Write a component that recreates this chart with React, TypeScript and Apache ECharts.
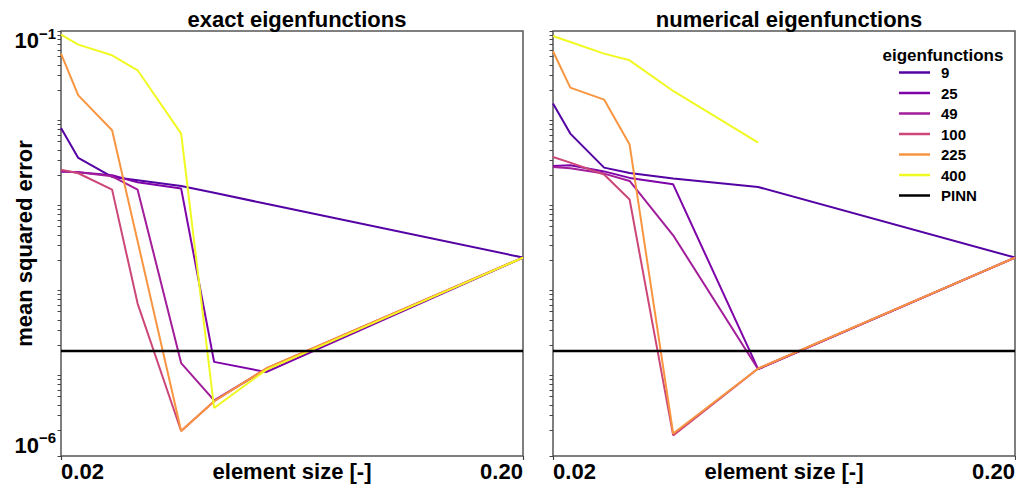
import React, { useEffect, useRef } from "react";
import * as echarts from "echarts";

// element sizes (x) for each panel
const exactSizes = [0.02, 0.0218, 0.0258, 0.0293, 0.0364, 0.0429, 0.0556, 0.2];
const numericalSizes = [0.02, 0.0218, 0.0258, 0.0293, 0.0364, 0.0556, 0.2];

const eigenNames = ["9", "25", "49", "100", "225", "400"];
const eigenColors = ["#5402a3", "#7e03a8", "#a21d9a", "#cc4778", "#f89540", "#f0f921"];

// exact eigenfunctions panel (mean squared error)
const exact9 = [7.23e-3, 3.21e-3, 1.92e-3, 1.75e-3, 1.5e-3, 1.25e-3, 9.27e-4, 2.16e-4];
const exact25 = [2.22e-3, 2.18e-3, 2.01e-3, 1.66e-3, 1.4e-3, 1.28e-5, 9.73e-6, 2.16e-4];
const exact49 = [2.22e-3, 2.18e-3, 1.95e-3, 1.36e-3, 1.24e-5, 4.52e-6, 1.05e-5, 2.16e-4];
const exact100 = [2.34e-3, 2.12e-3, 1.36e-3, 6.21e-5, 1.97e-6, 4.41e-6, 1.07e-5, 2.16e-4];
const exact225 = [5.42e-2, 1.75e-2, 6.79e-3, 3.36e-4, 1.97e-6, 4.41e-6, 1.07e-5, 2.16e-4];
const exact400 = [9.07e-2, 6.92e-2, 5.18e-2, 3.45e-2, 6.21e-3, 3.67e-6, 1.03e-5, 2.16e-4];

// numerical eigenfunctions panel
const num9 = [1.4e-2, 6.21e-3, 2.47e-3, 2.13e-3, 1.84e-3, 1.46e-3, 2.16e-4];
const num25 = [2.58e-3, 2.63e-3, 2.23e-3, 1.87e-3, 1.57e-3, 1.05e-5, 2.16e-4];
const num49 = [2.51e-3, 2.43e-3, 2.1e-3, 1.72e-3, 3.95e-4, 1.05e-5, 2.16e-4];
const num100 = [3.3e-3, 2.83e-3, 2.05e-3, 1.04e-3, 1.75e-6, 1.07e-5, 2.16e-4];
const num225 = [5.77e-2, 2.16e-2, 1.56e-2, 4.61e-3, 1.84e-6, 1.07e-5, 2.16e-4];
const num400 = [8.73e-2, 7.43e-2, 5.42e-2, 4.52e-2, 1.97e-2, 4.86e-3, null];

const pinnMSE = 1.72e-5;

const xTickLabels = [0.02, 0.2];
const yTickLabels = [1e-6, 1e-1];

const exactSeries = [exact9, exact25, exact49, exact100, exact225, exact400];
const numSeries = [num9, num25, num49, num100, num225, num400];

const FONT = "Liberation Sans";

function yMinorTicks(): number[] {
  const out: number[] = [];
  for (let k = -6; k <= -2; k++) {
    for (let m = 2; m <= 9; m++) out.push(m * Math.pow(10, k));
  }
  return out;
}

const base = { fontFamily: FONT, fontWeight: "bold", color: "#000" };

export default function App() {
  const ref = useRef<HTMLDivElement>(null);
  useEffect(() => {
    if (!ref.current) return;
    const chart = echarts.init(ref.current, null, { renderer: "svg" });
    const grids = [
      { left: 61, top: 31, width: 462, height: 425 },
      { left: 553, top: 31, width: 462, height: 425 },
    ];
    const makeX = (i: number) => ({
      type: "log",
      logBase: 10,
      gridIndex: i,
      min: 0.02,
      max: 0.2,
      name: "element size [-]",
      nameLocation: "middle",
      nameGap: 4,
      nameMoveOverlap: false,
      nameTextStyle: { ...base, fontSize: 22, verticalAlign: "top" },
      axisLine: { show: false },
      splitLine: { show: false },
      minorTick: { show: false },
      axisTick: { show: true, customValues: xTickLabels, length: 4, lineStyle: { color: "#444", width: 1.2 } },
      axisLabel: {
        customValues: xTickLabels,
        margin: 4,
        formatter: (v: number) => (v < 0.05 ? "{l|" + v.toFixed(2) + "}" : "{r|" + v.toFixed(2) + "}"),
        rich: {
          l: { ...base, fontSize: 22, padding: [0, 0, 0, 43] },
          r: { ...base, fontSize: 22, padding: [0, 43, 0, 0] },
        },
      },
    });
    const makeY = (i: number) => ({
      type: "log",
      logBase: 10,
      gridIndex: i,
      min: 1e-6,
      max: 1e-1,
      name: i === 0 ? "mean squared error" : "",
      nameLocation: "middle",
      nameRotate: 90,
      nameGap: 26,
      nameMoveOverlap: false,
      nameTextStyle: { ...base, fontSize: 22 },
      axisLine: { show: false },
      splitLine: { show: false },
      minorTick: { show: false },
      axisTick: { show: true, customValues: yMinorTicks().concat(yTickLabels), length: 3.5, lineStyle: { color: "#444", width: 1 } },
      axisLabel: {
        show: i === 0,
        customValues: yTickLabels,
        margin: 5,
        formatter: (v: number) => {
          const e = Math.round(Math.log10(v));
          return e > -3 ? "{tb|10}{ts|−" + Math.abs(e) + "}" : "{bb|10}{bs|−" + Math.abs(e) + "}";
        },
        rich: {
          tb: { ...base, fontSize: 22, lineHeight: 22, padding: [24, 0, 6, 0] },
          ts: { ...base, fontSize: 15, lineHeight: 15, padding: [21, 0, 16, 0] },
          bb: { ...base, fontSize: 22, lineHeight: 22, padding: [6, 0, 28, 0] },
          bs: { ...base, fontSize: 15, lineHeight: 15, padding: [2, 0, 39, 0] },
        },
      },
    });
    const series: any[] = [];
    [0, 1].forEach((p) => {
      const sizes = p === 0 ? exactSizes : numericalSizes;
      const sets = p === 0 ? exactSeries : numSeries;
      sets.forEach((vals, j) => {
        series.push({
          type: "line",
          name: eigenNames[j],
          xAxisIndex: p,
          yAxisIndex: p,
          color: eigenColors[j],
          symbol: "none",
          lineStyle: { width: 2, color: eigenColors[j] },
          data: sizes.map((x, k) => [x, vals[k]]).filter((d) => d[1] !== null),
        });
      });
      series.push({
        type: "line",
        name: "PINN",
        xAxisIndex: p,
        yAxisIndex: p,
        color: "#000",
        symbol: "none",
        lineStyle: { width: 2.4, color: "#000" },
        data: [
          [0.02, pinnMSE],
          [0.2, pinnMSE],
        ],
      });
    });
    chart.setOption({
      animation: false,
      backgroundColor: "#fff",
      textStyle: { fontFamily: FONT },
      title: [
        { text: "exact eigenfunctions", left: 292, top: 3, textAlign: "center", textStyle: { ...base, fontSize: 22 } },
        { text: "numerical eigenfunctions", left: 784, top: 3, textAlign: "center", textStyle: { ...base, fontSize: 22 } },
        { text: "eigenfunctions", left: 938, top: 42, textAlign: "center", textStyle: { ...base, fontSize: 17 } },
      ],
      legend: {
        data: eigenNames.concat(["PINN"]),
        orient: "vertical",
        left: 899,
        top: 65,
        icon: "rect",
        itemWidth: 31,
        itemHeight: 2.5,
        itemGap: 5.5,
        padding: 0,
        textStyle: { ...base, fontSize: 15, lineHeight: 15, padding: [0, 0, 0, 6] },
      },
      grid: grids.map((g) => ({ ...g, show: true, containLabel: false, outerBoundsMode: "none", borderColor: "#555", borderWidth: 1.5, backgroundColor: "transparent" })),
      xAxis: [makeX(0), makeX(1)],
      yAxis: [makeY(0), makeY(1)],
      series,
    });
    return () => chart.dispose();
  }, []);
  return <div ref={ref} style={{ position: "fixed", left: 0, top: 0, width: 1016, height: 485 }} />;
}
